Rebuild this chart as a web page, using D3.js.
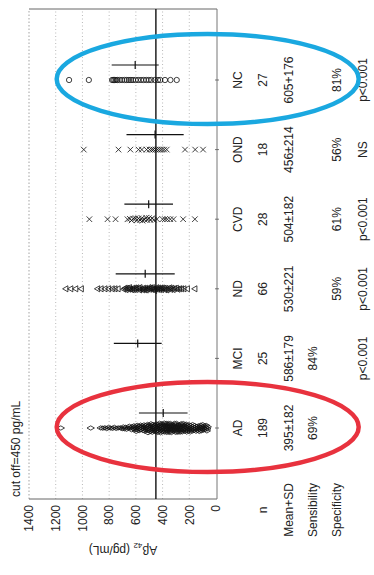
<!DOCTYPE html>
<html>
<head>
<meta charset="utf-8">
<script src="https://cdn.jsdelivr.net/npm/d3@7"></script>
<style>
  html, body { margin: 0; padding: 0; background: #fff; }
  svg { display: block; }
  text { font-family: "Liberation Sans", Arial, sans-serif; fill: #222; }
</style>
</head>
<body>
<div id="chart"></div>
<script>
// categories and table texts
const categories = ['AD', 'MCI', 'ND', 'CVD', 'OND', 'NC'];
const counts = ['189', '25', '66', '28', '18', '27'];
const means = [395, 586, 530, 504, 456, 605];
const sds = [182, 179, 221, 182, 214, 176];
const meanSdLabels = ['395\u00b1182', '586\u00b1179', '530\u00b1221', '504\u00b1182', '456\u00b1214', '605+176'];
const sensitivity = ['69%', '84%', '', '', '', ''];
const specificity = ['', '', '59%', '61%', '56%', '81%'];
const pValues = ['', 'p<0.001', 'p<0.001', 'p<0.001', 'NS', 'p<0.001'];
const rowLabels = ['n', 'Mean+SD', 'Sensibility', 'Specificity'];
const yTicks = [0, 200, 400, 600, 800, 1000, 1200, 1400];
const cutOff = 450;

// individual values (pg/mL)
const adValues = [
  1162, 938, 862, 848, 833, 817, 806, 790, 774, 761, 748, 733, 716, 702,
  694, 687, 676, 668, 657, 649, 641, 633, 628, 619, 612, 607, 603, 596,
  591, 587, 579, 574, 571, 566, 559, 553, 549, 544, 538, 533, 529, 526, 519, 514, 511, 507, 503, 585, 562, 541, 522, 508,
  498, 494, 491, 487, 483, 481, 476, 472, 469, 466, 461, 458, 455, 451, 447, 444, 440, 437, 433, 429, 426, 422, 418, 415,
  412, 408, 404, 401, 489, 474, 463, 449, 431, 419,
  399, 396, 392, 389, 386, 383, 379, 376, 372, 369, 366, 362, 358, 355, 352, 348, 345, 341, 338, 334, 331, 327, 324, 321,
  317, 313, 310, 306, 303, 301, 394, 381, 367, 353, 336, 318,
  298, 295, 291, 288, 284, 281, 277, 274, 271, 267, 263, 260, 256, 253, 249, 246, 242, 239, 235, 232, 228, 225, 221, 218,
  214, 211, 207, 204, 201, 286, 262, 237, 216,
  197, 193, 189, 184, 180, 176, 171, 167, 162, 158, 153, 149, 145, 141, 136, 132, 127, 123, 118, 114, 109, 105, 102, 174,
  97, 93, 90, 86, 83, 79, 76, 73, 71, 68
];
const mciValues = [];
const ndValues = [
  1122, 1085, 1048, 1006, 884, 858, 829, 802, 775, 754, 731,
  688, 679, 671, 664, 652, 645, 637, 628, 620, 611, 604, 597, 589, 580, 572, 566, 558, 549, 541, 534,
  527, 519, 511, 503, 496, 488, 480, 473, 466, 458, 451, 444, 436, 428, 421, 413, 405, 398, 389, 381,
  372, 364, 355, 346, 337, 328, 318, 307, 296, 284, 271, 256, 238, 212, 156
];
const cvdValues = [948, 812, 752, 662, 645, 631, 618, 604, 593, 581, 568, 556, 547, 536, 525, 514, 502, 491, 478, 466,
  442, 398, 383, 366, 342, 318, 246, 158];
const ondValues = [990, 730, 641, 580, 555, 520, 497, 481, 468, 452, 437, 421, 405, 388, 369, 232, 156, 97];
const ncValues = [1100, 952, 778, 769, 760, 749, 738, 721, 703, 684, 668, 652, 637, 621, 602, 583, 561, 541, 522, 503,
  484, 458, 434, 417, 382, 341, 294];
const groupValues = [adValues, mciValues, ndValues, cvdValues, ondValues, ncValues];

const W = 374, H = 575;
const svg = d3.select('#chart').append('svg')
  .attr('width', W)
  .attr('height', H);

// the figure is printed turned a quarter turn: draw it upright and rotate
const g = svg.append('g')
  .attr('transform', 'translate(0,' + H + ') rotate(-90)');

const plotLeft = 76, plotRight = 566, plotTop = 29, plotBottom = 217;

const x = d3.scalePoint()
  .domain(categories)
  .range([147, 495]);

const y = d3.scaleLinear()
  .domain([0, 1400])
  .range([216, 29]);

// dotted grid
g.append('g')
  .selectAll('line')
  .data(yTicks.filter(t => t > 0 && t < 1400))
  .enter().append('line')
  .attr('x1', plotLeft).attr('x2', plotRight)
  .attr('y1', d => y(d)).attr('y2', d => y(d))
  .attr('stroke', '#999')
  .attr('stroke-width', 0.7)
  .attr('stroke-dasharray', '1,2.5');

// frame
g.append('line').attr('x1', plotLeft).attr('x2', plotRight).attr('y1', plotTop).attr('y2', plotTop)
  .attr('stroke', '#999').attr('stroke-width', 0.9).attr('stroke-dasharray', '1.5,2');
g.append('line').attr('x1', plotRight).attr('x2', plotRight).attr('y1', plotTop).attr('y2', plotBottom)
  .attr('stroke', '#555').attr('stroke-width', 0.9);
g.append('line').attr('x1', plotLeft).attr('x2', plotLeft).attr('y1', plotTop).attr('y2', plotBottom)
  .attr('stroke', '#666').attr('stroke-width', 1);
g.append('line').attr('x1', plotLeft).attr('x2', plotRight).attr('y1', plotBottom).attr('y2', plotBottom)
  .attr('stroke', '#777').attr('stroke-width', 1);

// y axis labels
const yAxis = d3.axisLeft(y)
  .tickValues(yTicks)
  .tickFormat(d3.format('d'))
  .tickSize(0)
  .tickPadding(6);
const ya = g.append('g')
  .attr('transform', 'translate(' + plotLeft + ',0)')
  .call(yAxis);
ya.select('.domain').remove();
ya.selectAll('text')
  .style('font-family', '"Liberation Sans", Arial, sans-serif')
  .style('font-size', '12px')
  .attr('fill', '#222');

// category ticks on the zero line
g.append('g')
  .selectAll('line')
  .data(categories)
  .enter().append('line')
  .attr('x1', d => x(d)).attr('x2', d => x(d))
  .attr('y1', plotBottom - 2).attr('y2', plotBottom + 2)
  .attr('stroke', '#555').attr('stroke-width', 0.8);

// cut-off line
g.append('line')
  .attr('x1', plotLeft).attr('x2', plotRight)
  .attr('y1', y(cutOff)).attr('y2', y(cutOff))
  .attr('stroke', '#111').attr('stroke-width', 1.4);

g.append('text')
  .attr('x', plotLeft + 2)
  .attr('y', 20)
  .style('font-size', '12px')
  .text('cut off=' + cutOff + ' pg/mL');

// y title
g.append('text')
  .attr('transform', 'translate(25,' + ((plotTop + plotBottom) / 2) + ') rotate(-90)')
  .attr('text-anchor', 'middle')
  .attr('dy', '0.35em')
  .style('font-size', '12px')
  .html('A\u03b2<tspan dy="3" font-size="8">42</tspan><tspan dy="-3"> (pg/mL)</tspan>');

// scatter: tight beeswarm per group
const symbolTypes = [d3.symbolDiamond, null, d3.symbolTriangle,
  d3.symbolTimes || d3.symbolCross, d3.symbolTimes || d3.symbolCross, d3.symbolCircle];
const symbolSizes = [16, 0, 16, 22, 22, 22];
const collideR = [1.05, 0, 0.9, 1.2, 0.8, 0.6];

groupValues.forEach((vals, gi) => {
  if (!vals.length) return;
  const cx = x(categories[gi]);
  const nodes = vals.map((v, i) => ({ v: v, x: cx + ((i % 5) - 2) * 0.3, y: y(v) }));
  const sim = d3.forceSimulation(nodes)
    .force('y', d3.forceY(d => y(d.v)).strength(1))
    .force('x', d3.forceX(cx).strength(0.25))
    .force('c', d3.forceCollide(collideR[gi]))
    .stop();
  for (let k = 0; k < 160; k++) sim.tick();

  const sym = d3.symbol().type(symbolTypes[gi]).size(symbolSizes[gi]);
  g.append('g')
    .selectAll('path')
    .data(nodes)
    .enter().append('path')
    .attr('d', sym)
    .attr('transform', d => 'translate(' + d.x + ',' + d.y + ')')
    .attr('fill', 'none')
    .attr('stroke', '#111')
    .attr('stroke-width', 0.8);
});

// mean ± SD bars
const barOffset = 15;
const bars = g.append('g')
  .selectAll('g')
  .data(categories)
  .enter().append('g');
bars.append('line')
  .attr('x1', d => x(d) + barOffset).attr('x2', d => x(d) + barOffset)
  .attr('y1', (d, i) => y(means[i] - sds[i]))
  .attr('y2', (d, i) => y(means[i] + sds[i]))
  .attr('stroke', '#111').attr('stroke-width', 1.2);
bars.append('line')
  .attr('x1', d => x(d) + barOffset - 4).attr('x2', d => x(d) + barOffset + 4)
  .attr('y1', (d, i) => y(means[i]))
  .attr('y2', (d, i) => y(means[i]))
  .attr('stroke', '#111').attr('stroke-width', 1.2);

// table under the axis
const rows = [
  { v: 238, texts: categories },
  { v: 263, texts: counts },
  { v: 289, texts: meanSdLabels },
  { v: 313, texts: sensitivity },
  { v: 337, texts: specificity },
  { v: 363, texts: pValues }
];
rows.forEach(r => {
  g.append('g')
    .selectAll('text')
    .data(r.texts)
    .enter().append('text')
    .attr('x', (d, i) => x(categories[i]))
    .attr('y', r.v)
    .attr('dy', '0.35em')
    .attr('text-anchor', 'middle')
    .style('font-size', '12px')
    .text(d => d);
});
g.append('g')
  .selectAll('text')
  .data(rowLabels)
  .enter().append('text')
  .attr('x', 65)
  .attr('y', (d, i) => rows[i + 1].v)
  .attr('dy', '0.35em')
  .attr('text-anchor', 'middle')
  .style('font-size', '12px')
  .text(d => d);

// highlight rings around AD and NC
const rings = [
  { cat: 'AD', color: '#e8323e' },
  { cat: 'NC', color: '#1aa8e0' }
];
g.append('g')
  .selectAll('ellipse')
  .data(rings)
  .enter().append('ellipse')
  .attr('cx', d => x(d.cat) + 1)
  .attr('cy', (y(1180) + 357) / 2)
  .attr('rx', 45)
  .attr('ry', 151)
  .attr('fill', 'none')
  .attr('stroke', d => d.color)
  .attr('stroke-width', 4.5);
</script>
</body>
</html>
